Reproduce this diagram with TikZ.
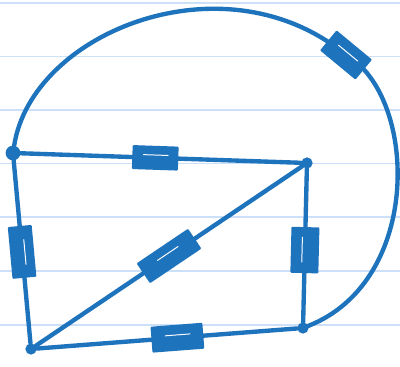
\documentclass[tikz,border=0pt]{standalone}
\usetikzlibrary{positioning}
\definecolor{pen}{RGB}{30,115,189}
\definecolor{ruled}{RGB}{204,224,250}

\begin{document}
\begin{tikzpicture}[x=0.025cm, y=-0.025cm,
    wire/.style={draw=pen, line width=3.1pt, line cap=round, line join=round},
    junction/.style={circle, fill=pen, inner sep=0pt, minimum size=#1},
    junction/.default=8pt,
    resistor/.style={rectangle, draw=pen, fill=pen, line width=1.4pt, inner sep=0pt,
      minimum width=1.1cm, minimum height=0.55cm,
      path picture={\draw[white, line width=0.7pt]
        ([xshift=-0.3cm, yshift=0.07cm]path picture bounding box.center) --
        ([xshift=0.32cm, yshift=0.07cm]path picture bounding box.center);}}]
    \useasboundingbox (0,0) rectangle (400,367);
    \fill[white] (0,0) rectangle (400,367);
    % ruled paper
    \foreach \y in {3,56.5,110,163.5,217,271,325}
      \draw[ruled, line width=1.4pt] (0,\y) -- (400,\y);

    \node[junction=10.5pt] (tl) at (13,153) {};
    \node[junction] (tr) at (307,163) {};
    \node[junction] (br) at (303,328) {};
    \node[junction] (bl) at (31,349) {};

    \draw[wire] (tl) -- node[resistor, sloped, pos=0.48] (r1) {} (tr);
    \draw[wire] (tl) -- node[resistor, sloped, pos=0.5, minimum width=1.25cm] (r2) {} (bl);
    \draw[wire] (bl) -- node[resistor, sloped, pos=0.5, minimum width=1.5cm] (r3) {} (tr);
    \draw[wire] (tr) -- node[resistor, sloped, pos=0.53, minimum height=0.65cm] (r4) {} (br);
    \draw[wire] (bl) -- node[resistor, sloped, pos=0.54, minimum width=1.25cm, minimum height=0.6cm] (r5) {} (br);
    % big loop over the top
    \draw[wire] (tl) .. controls (32,32) and (225,-45) .. (346,55)
      node[resistor, sloped, pos=1, minimum height=0.6cm] (r6) {}
      .. controls (417,95) and (424,280) .. (br);
\end{tikzpicture}
\end{document}
